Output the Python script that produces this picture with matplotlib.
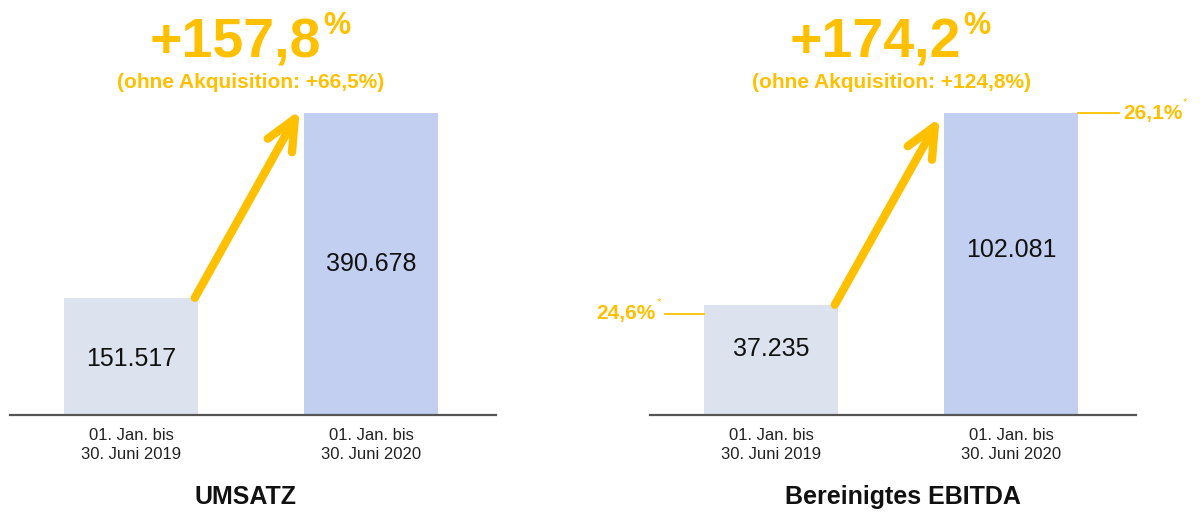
import matplotlib.pyplot as plt

plt.rcParams['font.family'] = ['Liberation Sans', 'DejaVu Sans']

perioden = ["01. Jan. bis\n30. Juni 2019", "01. Jan. bis\n30. Juni 2020"]
umsatz = [151517, 390678]
ebitda = [37235, 102081]
umsatz_labels = ["151.517", "390.678"]
ebitda_labels = ["37.235", "102.081"]
margen = ["24,6%", "26,1%"]

orange = '#FFC000'
farben = ['#DDE3EE', '#C3CFF0']

W, H = 1200, 514
def fx(px):
    return px / W
def fy(py):
    return 1 - py / H

fig = plt.figure(figsize=(12, 5.14), dpi=100)

def balken(x0, x1, werte, labels, tip, label_off):
    ax = fig.add_axes([fx(x0), fy(415), fx(x1 - x0), 405 / H])
    breite = 0.558
    ax.bar([0, 1], werte, width=breite, color=farben)
    ax.set_xlim(-0.506, 0.519 + 1)
    ax.set_ylim(0, werte[1] * 405 / 302)
    for s in ['top', 'left', 'right']:
        ax.spines[s].set_visible(False)
    ax.spines['bottom'].set_color('#555555')
    ax.spines['bottom'].set_linewidth(1.6)
    ax.set_yticks([])
    ax.set_xticks([0, 1], perioden)
    ax.tick_params(axis='x', length=0, pad=9, labelsize=12, colors='#222222')
    for t in ax.get_xticklabels():
        t.set_linespacing(1.35)
    for i, v in enumerate(werte):
        ax.annotate(labels[i], (i, v / 2), xytext=(0, label_off[i]),
                    textcoords='offset points', ha='center', va='center',
                    fontsize=18, color='#111111')
    # Pfeil vom ersten zum zweiten Balken
    ax.annotate('', xy=(1 - breite / 2 - 0.02, werte[1] * tip),
                xytext=(breite / 2 - 0.015, werte[0]),
                arrowprops=dict(arrowstyle='->,head_length=0.55,head_width=0.25',
                                lw=6, color=orange, shrinkA=0, shrinkB=0,
                                mutation_scale=40, capstyle='round',
                                joinstyle='round'))
    return ax

ax1 = balken(10, 496, umsatz, umsatz_labels, 1.01, [-2, 0])
ax2 = balken(650, 1136, ebitda, ebitda_labels, 0.985, [8, 10])

# Margen am EBITDA-Chart
b = 0.558
y0 = ebitda[0] * 0.92
ax2.plot([-b / 2 - 0.165, -b / 2], [y0, y0], color=orange, lw=1.3, clip_on=False)
ax2.plot([1 + b / 2, 1 + b / 2 + 0.17], [ebitda[1], ebitda[1]], color=orange, lw=1.3, clip_on=False)
ax2.annotate(margen[0], (-b / 2 - 0.165, y0), xytext=(-6.5, 0),
             textcoords='offset points', ha='right', va='center',
             fontsize=15, fontweight='bold', color=orange, annotation_clip=False)
ax2.annotate('*', (-b / 2 - 0.165, y0), xytext=(-6, 8),
             textcoords='offset points', ha='left', va='center',
             fontsize=8, color=orange, annotation_clip=False)
ax2.annotate(margen[1], (1 + b / 2 + 0.17, ebitda[1]), xytext=(3, 0),
             textcoords='offset points', ha='left', va='center',
             fontsize=15, fontweight='bold', color=orange, annotation_clip=False)
ax2.annotate('*', (1 + b / 2 + 0.17, ebitda[1]), xytext=(46, 8),
             textcoords='offset points', ha='left', va='center',
             fontsize=8, color=orange, annotation_clip=False)

# Wachstum oben
fig.text(fx(321), fy(44), '+157,8', ha='right', va='center', fontsize=40,
         fontweight='bold', color=orange)
fig.text(fx(323), fy(26), '%', ha='left', va='center', fontsize=22,
         fontweight='bold', color=orange)
fig.text(fx(251), fy(83), '(ohne Akquisition: +66,5%)', ha='center', va='center',
         fontsize=15, fontweight='bold', color=orange)

fig.text(fx(961), fy(44), '+174,2', ha='right', va='center', fontsize=40,
         fontweight='bold', color=orange)
fig.text(fx(963), fy(26), '%', ha='left', va='center', fontsize=22,
         fontweight='bold', color=orange)
fig.text(fx(891), fy(83), '(ohne Akquisition: +124,8%)', ha='center', va='center',
         fontsize=15, fontweight='bold', color=orange)

# Titel unten
fig.text(fx(245), fy(497), 'UMSATZ', ha='center', va='center', fontsize=18,
         fontweight='bold', color='#111111')
fig.text(fx(903), fy(497), 'Bereinigtes EBITDA', ha='center', va='center',
         fontsize=18, fontweight='bold', color='#111111')

fig.savefig('out.png', dpi=100)
